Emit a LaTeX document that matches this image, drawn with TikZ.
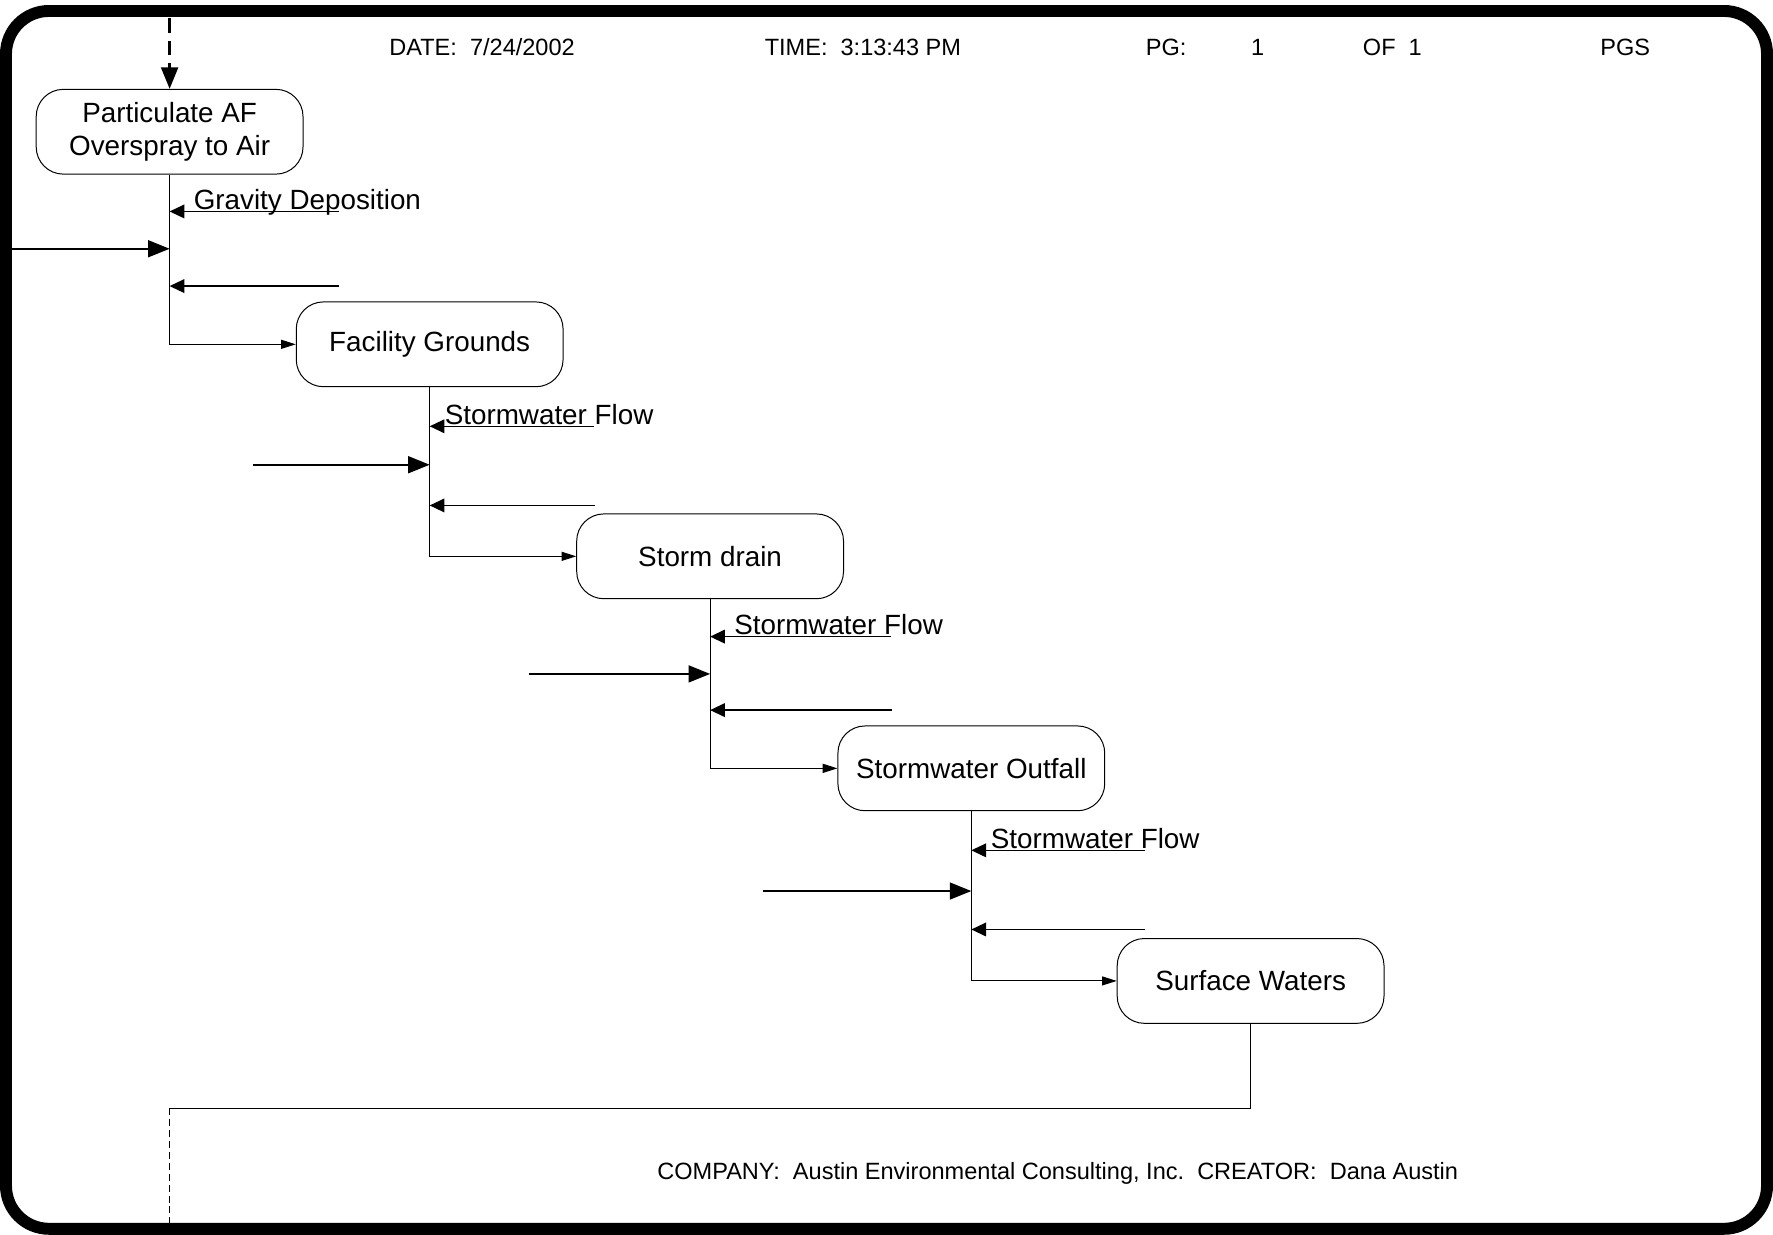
\documentclass[tikz,border=0pt]{standalone}
\usepackage{fontspec}
\setmainfont{Liberation Sans}
\usetikzlibrary{arrows.meta}
\begin{document}
\begin{tikzpicture}[x=0.02cm,y=-0.02cm,
  proc/.style={draw,line width=0.5pt,rounded corners=0.48cm,minimum width=4.72cm,minimum height=1.5cm,
    inner sep=0pt,align=center,font=\fontsize{14pt}{16.5pt}\selectfont},
  lbl/.style={inner sep=0pt,anchor=base west,font=\fontsize{14pt}{16.5pt}\selectfont},
  head/.style={inner sep=0pt,anchor=base west,font=\fontsize{11.85pt}{14pt}\selectfont},
  link/.style={line width=0.5pt},
  bigarr/.style={line width=0.8pt,-{Triangle[length=0.38cm,width=0.3cm]}},
  medarr/.style={line width=0.8pt,-{Triangle[length=0.26cm,width=0.24cm]}},
  smallarr/.style={line width=0.5pt,-{Triangle[length=0.26cm,width=0.16cm]}}]
\useasboundingbox (0,0) rectangle (1568,1092);
\draw[line width=6pt,rounded corners=0.76cm] (5.3,9.7) rectangle (1562.7,1086.7);

\node[head] (date) at (344,49) {DATE:\ \ 7/24/2002};
\node[head] (time) at (676,49) {TIME:\ \ 3:13:43 PM};
\node[head] (pg) at (1013,49) {PG:};
\node[head] (pgnum) at (1106,49) {1};
\node[head] (of) at (1205,49) {OF\ \ 1};
\node[head] (pgs) at (1415,49) {PGS};
\node[head] (company) at (581,1043) {COMPANY:\ \ Austin Environmental Consulting, Inc.\ \ CREATOR:\ \ Dana Austin};

\node[proc] (air) at (150,116.5) {Particulate AF\\Overspray to Air};
\node[proc] (grounds) at (380,304.5) {Facility Grounds};
\node[proc] (drain) at (628,492) {Storm drain};
\node[proc] (outfall) at (859,679.5) {Stormwater Outfall};
\node[proc] (surface) at (1106,867.5) {Surface Waters};

\coordinate (top) at (150,16);
\draw[bigarr,line width=1.2pt,dash pattern=on 0.26cm off 0.14cm] (top) -- (air.north);

\coordinate (gd) at (300,187);
\coordinate (in1) at (10,220);
\coordinate (r1) at (300,253);
\node[lbl] (gdtext) at (171,185.5) {Gravity Deposition};
\draw[medarr] (gd) -- (gd -| air.south);
\draw[bigarr] (in1) -- (in1 -| air.south);
\draw[medarr] (r1) -- (r1 -| air.south);
\draw[smallarr] (air.south) |- (grounds.west);

\coordinate (sf1) at (525,377);
\coordinate (in2) at (224,411);
\coordinate (r2) at (526,447);
\node[lbl] (sf1text) at (393,375) {Stormwater Flow};
\draw[medarr] (sf1) -- (sf1 -| grounds.south);
\draw[bigarr] (in2) -- (in2 -| grounds.south);
\draw[medarr] (r2) -- (r2 -| grounds.south);
\draw[smallarr] (grounds.south) |- (drain.west);

\coordinate (sf2) at (788,563);
\coordinate (in3) at (468,596);
\coordinate (r3) at (789,628);
\node[lbl] (sf2text) at (649,561) {Stormwater Flow};
\draw[medarr] (sf2) -- (sf2 -| drain.south);
\draw[bigarr] (in3) -- (in3 -| drain.south);
\draw[medarr] (r3) -- (r3 -| drain.south);
\draw[smallarr] (drain.south) |- (outfall.west);

\coordinate (sf3) at (1013,752);
\coordinate (in4) at (675,788);
\coordinate (r4) at (1013,822);
\node[lbl] (sf3text) at (876,750) {Stormwater Flow};
\draw[medarr] (sf3) -- (sf3 -| outfall.south);
\draw[bigarr] (in4) -- (in4 -| outfall.south);
\draw[medarr] (r4) -- (r4 -| outfall.south);
\draw[smallarr] (outfall.south) |- (surface.west);

\coordinate (ret) at (150,980);
\coordinate (bot) at (150,1082);
\draw[link] (surface.south) |- (ret);
\draw[link,dash pattern=on 3.5pt off 2pt] (ret) -- (bot);
\end{tikzpicture}
\end{document}
